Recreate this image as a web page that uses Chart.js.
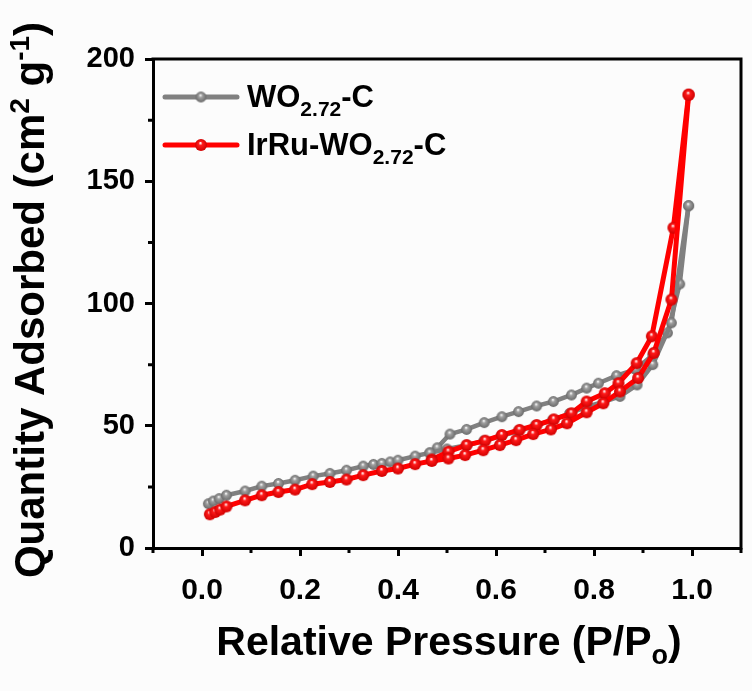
<!DOCTYPE html>
<html><head><meta charset="utf-8">
<script src="https://cdn.jsdelivr.net/npm/chart.js@4"></script>
<style>html,body{margin:0;padding:0;background:#fcfcfc}#wrap{width:752px;height:691px}</style>
</head><body><div id="wrap"><canvas id="c" width="752" height="691"></canvas></div>
<script>
// ---- data ----
const grayAdsP = [0.013,0.023,0.035,0.05,0.088,0.122,0.156,0.19,0.227,0.261,0.295,0.329,0.35,0.367,0.384,0.40,0.435,0.465,0.50,0.54,0.575,0.61,0.645,0.68,0.715,0.75,0.785,0.82,0.853,0.888,0.92,0.958,0.993];
const grayAdsQ = [18.1,19.2,20.2,21.6,23.3,25.3,26.4,27.7,29.4,30.5,31.8,33.5,34.2,34.6,35.2,35.9,37.6,38.9,40.5,42.0,43.8,45.8,47.8,50.0,52.3,55.0,57.8,59.8,62.0,66.7,75.0,92.1,140.0];
const grayDesP = [0.993,0.975,0.95,0.92,0.885,0.846,0.809,0.785,0.754,0.717,0.683,0.646,0.612,0.576,0.54,0.506,0.48,0.465];
const grayDesQ = [140.0,108.0,88.0,79.0,73.0,70.5,67.4,65.4,62.6,59.9,58.1,55.8,53.7,51.3,48.5,46.6,41.0,38.9];
const redAdsP = [0.016,0.027,0.037,0.05,0.088,0.122,0.156,0.19,0.225,0.261,0.295,0.329,0.367,0.40,0.435,0.469,0.503,0.537,0.574,0.608,0.641,0.676,0.712,0.745,0.785,0.819,0.853,0.89,0.922,0.958,0.993];
const redAdsQ = [13.8,14.7,15.7,17.0,19.5,21.6,22.9,23.9,26.1,27.0,28.0,29.8,31.5,32.5,34.3,35.6,36.6,38.0,40.0,42.1,44.1,46.6,48.5,51.0,55.5,59.2,64.0,69.5,79.8,101.6,185.4];
const redDesP = [0.993,0.962,0.918,0.887,0.85,0.822,0.785,0.754,0.718,0.683,0.648,0.612,0.578,0.54,0.503,0.469];
const redDesQ = [185.4,131.0,86.6,75.6,67.4,63.3,59.9,55.1,52.6,50.3,48.3,46.2,43.9,42.1,39.4,36.2];
const xMajorTicks = [0.0,0.2,0.4,0.6,0.8,1.0];
const xMinorTicks = [-0.1,0.1,0.3,0.5,0.7,0.9,1.1];
const yMajorTicks = [0,50,100,150,200];
const yMinorTicks = [25,75,125,175];

const FONT = "'Liberation Sans', Arial, sans-serif";

function sphere(base, dark, r) {
  const s = Math.ceil(2*r+2);
  const c = document.createElement('canvas');
  c.width = s; c.height = s;
  const g = c.getContext('2d');
  const cx = s/2, cy = s/2;
  const grad = g.createRadialGradient(cx - r*0.1, cy - r*0.35, r*0.05, cx, cy, r);
  grad.addColorStop(0, '#ffffff');
  grad.addColorStop(0.3, base);
  grad.addColorStop(1, dark);
  g.fillStyle = grad;
  g.beginPath(); g.arc(cx, cy, r, 0, Math.PI*2); g.fill();
  return c;
}
const graySphere = sphere('#a0a0a0', '#6a6a6a', 5.4);
const redSphere = sphere('#ff1a1a', '#d00000', 6.0);
const GRAY = '#808080', RED = '#ff0000';

function pts(px, qy) { return px.map((p, i) => ({x: p, y: qy[i]})); }

function drawRich(ctx, segs, x, y, align) {
  let total = 0;
  for (const s of segs) { ctx.font = 'bold ' + s.size + 'px ' + FONT; total += ctx.measureText(s.t).width; }
  let cx = align === 'center' ? x - total/2 : x;
  ctx.textBaseline = 'alphabetic';
  ctx.textAlign = 'left';
  for (const s of segs) {
    ctx.font = 'bold ' + s.size + 'px ' + FONT;
    ctx.fillText(s.t, cx, y + (s.dy || 0));
    cx += ctx.measureText(s.t).width;
  }
}

const decor = {
  id: 'decor',
  beforeDraw(chart) {
    const ctx = chart.ctx;
    ctx.save(); ctx.fillStyle = '#fcfcfc'; ctx.fillRect(0, 0, chart.width, chart.height); ctx.restore();
  },
  afterDraw(chart) {
    const ctx = chart.ctx, a = chart.chartArea;
    const xs = chart.scales.x, ys = chart.scales.y;
    ctx.save();
    ctx.strokeStyle = '#000'; ctx.lineWidth = 3;
    // frame top and right
    ctx.beginPath();
    ctx.moveTo(a.left - 1.5, a.top); ctx.lineTo(a.right, a.top); ctx.lineTo(a.right, a.bottom + 1.5);
    ctx.stroke();
    // minor ticks
    ctx.beginPath();
    for (const v of yMinorTicks) { const y = ys.getPixelForValue(v); ctx.moveTo(a.left, y); ctx.lineTo(a.left - 5, y); }
    for (const v of xMinorTicks) { const x = xs.getPixelForValue(v); ctx.moveTo(x, a.bottom); ctx.lineTo(x, a.bottom + 5); }
    ctx.stroke();
    ctx.fillStyle = '#000';
    // x title
    drawRich(ctx, [
      {t: 'Relative Pressure (P/P', size: 41},
      {t: 'o', size: 27, dy: 9},
      {t: ')', size: 41}
    ], 449, 655, 'center');
    // y title
    ctx.save();
    ctx.translate(44, 300);
    ctx.rotate(-Math.PI/2);
    drawRich(ctx, [
      {t: 'Quantity Adsorbed (cm', size: 42},
      {t: '2', size: 28, dy: -15},
      {t: ' g', size: 42},
      {t: '-1', size: 28, dy: -15},
      {t: ')', size: 42}
    ], 0, 0, 'center');
    ctx.restore();
    // legend
    const items = [
      {y: 97, line: GRAY, img: graySphere, segs: [{t:'WO', size:31},{t:'2.72', size:21, dy:9},{t:'-C', size:31}]},
      {y: 145, line: RED, img: redSphere, segs: [{t:'IrRu-WO', size:31},{t:'2.72', size:21, dy:9},{t:'-C', size:31}]}
    ];
    for (const it of items) {
      ctx.strokeStyle = it.line; ctx.lineWidth = 5; ctx.lineCap = 'round';
      ctx.beginPath(); ctx.moveTo(165, it.y); ctx.lineTo(237, it.y); ctx.stroke();
      ctx.drawImage(it.img, 201 - it.img.width/2, it.y - it.img.height/2);
      ctx.fillStyle = '#000';
      drawRich(ctx, it.segs, 247, it.y + 10, 'left');
    }
    ctx.restore();
  }
};

const dsBase = {showLine: true, fill: false, tension: 0, borderJoinStyle: 'round', borderCapStyle: 'round'};
new Chart(document.getElementById('c'), {
  type: 'scatter',
  data: {
    datasets: [
      Object.assign({label: 'IrRu-WO2.72-C ads', data: pts(redAdsP, redAdsQ), borderColor: RED, borderWidth: 5, pointStyle: redSphere, order: 0}, dsBase),
      Object.assign({label: 'IrRu-WO2.72-C des', data: pts(redDesP, redDesQ), borderColor: RED, borderWidth: 5, pointStyle: redSphere, order: 0}, dsBase),
      Object.assign({label: 'WO2.72-C ads', data: pts(grayAdsP, grayAdsQ), borderColor: GRAY, borderWidth: 4.5, pointStyle: graySphere, order: 1}, dsBase),
      Object.assign({label: 'WO2.72-C des', data: pts(grayDesP, grayDesQ), borderColor: GRAY, borderWidth: 4.5, pointStyle: graySphere, order: 1}, dsBase)
    ]
  },
  options: {
    responsive: false,
    animation: false,
    devicePixelRatio: 1,
    layout: {padding: {left: 0, right: 11, top: 59, bottom: 0}},
    plugins: {legend: {display: false}, tooltip: {enabled: false}, title: {display: false}},
    scales: {
      x: {
        type: 'linear', min: -0.1, max: 1.1,
        border: {display: true, width: 3, color: '#000'},
        grid: {drawOnChartArea: false, drawTicks: true, tickLength: 8, tickWidth: 3,
          tickColor: c => (xMajorTicks.some(v => Math.abs(v - c.tick.value) < 1e-6) ? '#000' : 'rgba(0,0,0,0)')},
        ticks: {stepSize: 0.1, color: '#000', padding: 17, maxRotation: 0, autoSkip: false,
          font: {family: FONT, weight: 'bold', size: 30},
          callback: v => (xMajorTicks.some(t => Math.abs(t - v) < 1e-6) ? v.toFixed(1) : '')},
        afterFit: s => { s.height = 143; s.paddingLeft = 0; s.paddingRight = 0; }
      },
      y: {
        type: 'linear', min: 0, max: 200,
        border: {display: true, width: 3, color: '#000'},
        grid: {drawOnChartArea: false, drawTicks: true, tickLength: 8, tickWidth: 3,
          tickColor: c => (yMajorTicks.includes(c.tick.value) ? '#000' : 'rgba(0,0,0,0)')},
        ticks: {stepSize: 25, color: '#000', padding: 10, autoSkip: false,
          font: {family: FONT, weight: 'bold', size: 29},
          callback: v => (yMajorTicks.includes(v) ? String(v) : '')},
        afterFit: s => { s.width = 153; s.paddingTop = 0; s.paddingBottom = 0; }
      }
    }
  },
  plugins: [decor]
});
</script>
</body></html>
